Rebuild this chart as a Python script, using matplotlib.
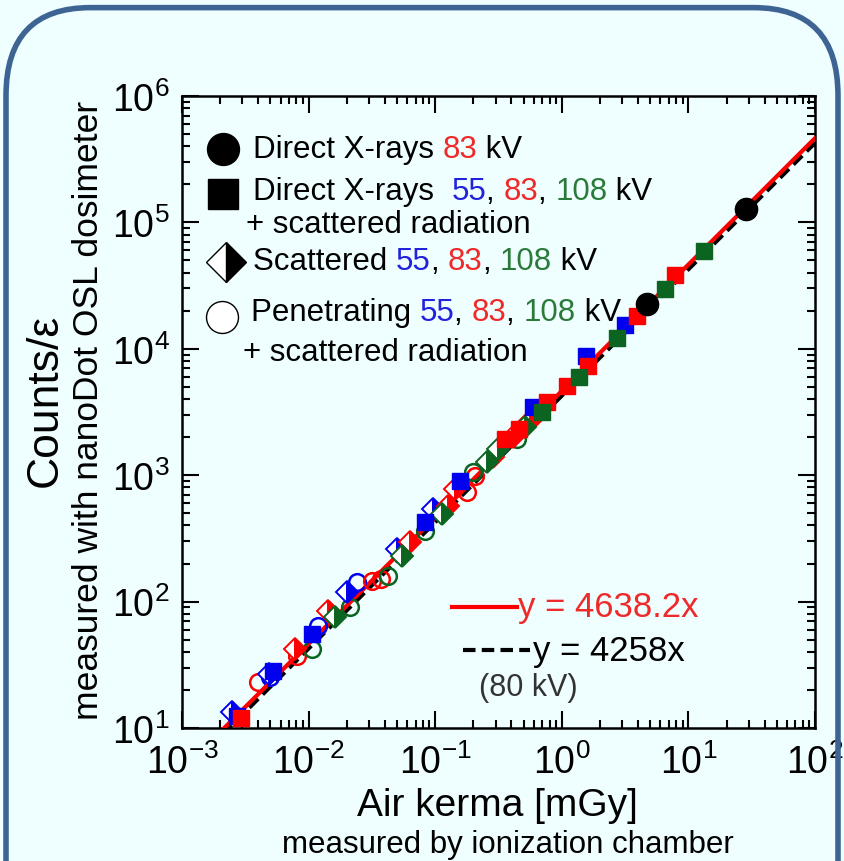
import numpy as np
import matplotlib
matplotlib.use('Agg')
import matplotlib.pyplot as plt
from matplotlib.patches import FancyBboxPatch
from matplotlib.offsetbox import TextArea, HPacker, AnnotationBbox

plt.rcParams['font.family'] = ['Liberation Sans', 'DejaVu Sans']
plt.rcParams['axes.unicode_minus'] = False

# Direct X-rays 83 kV (black circles)
dir83_x = [4.7, 28.5]
dir83_y = [22600, 127600]

# Direct X-rays + scattered radiation (filled squares)
sq55_x = [0.0027, 0.0052, 0.0106, 0.083, 0.157, 0.59, 1.55, 3.16]
sq55_y = [12.5, 28, 55, 427, 900, 3470, 8770, 15400]
sq83_x = [0.0029, 0.356, 0.46, 0.764, 1.10, 1.60, 3.9, 7.83]
sq83_y = [12.0, 1930, 2300, 3790, 5080, 7310, 18150, 38400]
sq108_x = [0.698, 1.37, 2.73, 6.53, 13.3]
sq108_y = [3160, 5990, 12200, 29700, 59400]

# Scattered (half filled diamonds)
sc55_x = [0.0025, 0.0049, 0.0201, 0.0499, 0.0962]
sc55_y = [13.4, 26.7, 119, 260, 541]
sc83_x = [0.0078, 0.0142, 0.0633, 0.126, 0.143, 0.286, 0.412, 0.561]
sc83_y = [42.2, 84, 296, 570, 778, 1393, 2005, 2690]
sc108_x = [0.0161, 0.0547, 0.113, 0.256, 0.313, 0.512]
sc108_y = [75.6, 230, 493, 1271, 1610, 2400]

# Penetrating + scattered radiation (open circles)
pen55_x = [0.0050, 0.0118, 0.0241]
pen55_y = [25.5, 64, 143]
pen83_x = [0.0040, 0.0081, 0.0317, 0.037, 0.178, 0.206]
pen83_y = [23.1, 37.2, 145.6, 150, 736, 986]
pen108_x = [0.0106, 0.0212, 0.0424, 0.083, 0.199, 0.443]
pen108_y = [42, 90.6, 159.6, 362, 1059, 1930]

# fitted lines y = a*x
fit_red = 4638.2
fit_black = 4258.0
fit_range = [0.0021, 100]

BG = '#effefe'
BLUE = '#0000ee'
RED = '#ff0000'
GREEN = '#0b6420'
TBLUE = '#2222dd'
TRED = '#ee2a2a'
TGREEN = '#2a7a3a'

fig = plt.figure(figsize=(8.44, 8.62), dpi=100)
fig.patch.set_facecolor(BG)

# rounded frame around everything
frame = FancyBboxPatch((6 / 844, -0.2), 832 / 844, 1.19, transform=fig.transFigure,
                       boxstyle='round,pad=0,rounding_size=0.1', facecolor='none',
                       edgecolor='#3e6494', linewidth=4, mutation_aspect=862 / 844)
fig.patches.append(frame)

ax = fig.add_axes([182 / 844, 1 - 729 / 862, 633 / 844, 632 / 862])
ax.set_facecolor(BG)
ax.set_xscale('log')
ax.set_yscale('log')
ax.set_xlim(1e-3, 1e2)
ax.set_ylim(1e1, 1e6)

xx = np.array(fit_range)
ax.plot(xx, fit_black * xx, color='black', ls=(0, (3, 1.5)), lw=3, zorder=2)
ax.plot(xx, fit_red * xx, color=RED, lw=3, zorder=3)

for xs, ys, c in [(pen55_x, pen55_y, BLUE), (pen83_x, pen83_y, RED), (pen108_x, pen108_y, GREEN)]:
    ax.plot(xs, ys, 'o', ms=12, mfc='none', mec=c, mew=1.8, zorder=4)
for xs, ys, c in [(sc55_x, sc55_y, BLUE), (sc83_x, sc83_y, RED), (sc108_x, sc108_y, GREEN)]:
    ax.plot(xs, ys, 'D', ms=11, fillstyle='right', mfc=c, mfcalt='white', mec=c, mew=1.4, zorder=5)
for xs, ys, c in [(sq55_x, sq55_y, BLUE), (sq83_x, sq83_y, RED), (sq108_x, sq108_y, GREEN)]:
    ax.plot(xs, ys, 's', ms=11.5, color=c, mec=c, zorder=6)
ax.plot(dir83_x, dir83_y, 'o', ms=16, color='black', zorder=7)

ax.tick_params(which='both', direction='in', top=True, right=True, width=1.5)
ax.tick_params(which='major', length=12, labelsize=27)
ax.tick_params(axis='x', which='major', pad=11)
ax.tick_params(axis='y', which='major', pad=9)
ax.tick_params(which='minor', length=6)
for s in ax.spines.values():
    s.set_linewidth(1.8)

# axis labels
fig.text(497 / 844, 1 - 806 / 862, 'Air kerma [mGy]', fontsize=28, ha='center', va='center')
fig.text(508 / 844, 1 - 845 / 862, 'measured by ionization chamber', fontsize=22.5,
         ha='center', va='center')
fig.text(45 / 844, 1 - 400 / 862, 'Counts/ε', fontsize=32, rotation=90, ha='center', va='center')
fig.text(89 / 844, 1 - 410 / 862, 'measured with nanoDot OSL dosimeter', fontsize=25.5,
         rotation=90, ha='center', va='center')

# legend (hand made)
def colored_line(x, y, parts, size=22.5):
    boxes = [TextArea(t, textprops=dict(color=c, fontsize=size)) for t, c in parts]
    pack = HPacker(children=boxes, align='baseline', pad=0, sep=0)
    ab = AnnotationBbox(pack, (x, 862 - y), xycoords='figure pixels', box_alignment=(0, 0.5),
                        frameon=False, pad=0)
    fig.add_artist(ab)

K = 'black'
fig.lines.append(plt.Line2D([223 / 844], [1 - 150 / 862], marker='o', ms=23, color='black',
                            transform=fig.transFigure))
fig.lines.append(plt.Line2D([223 / 844], [1 - 195 / 862], marker='s', ms=21.5, color='black',
                            transform=fig.transFigure))
fig.lines.append(plt.Line2D([226 / 844], [1 - 263 / 862], marker='D', ms=20, fillstyle='right',
                            mfc='black', mfcalt='white', mec='black', mew=1,
                            transform=fig.transFigure))
fig.lines.append(plt.Line2D([222 / 844], [1 - 318 / 862], marker='o', ms=23, mfc='white',
                            mec='black', mew=1, transform=fig.transFigure))

colored_line(253, 150, [('Direct X-rays ', K), ('83', TRED), (' kV', K)])
colored_line(253, 192, [('Direct X-rays  ', K), ('55', TBLUE), (', ', K), ('83', TRED),
                        (', ', K), ('108', TGREEN), (' kV', K)])
colored_line(246, 225, [('+ scattered radiation', K)])
colored_line(253, 262, [('Scattered ', K), ('55', TBLUE), (', ', K), ('83', TRED),
                        (', ', K), ('108', TGREEN), (' kV', K)])
colored_line(251, 313, [('Penetrating ', K), ('55', TBLUE), (', ', K), ('83', TRED),
                        (', ', K), ('108', TGREEN), (' kV', K)])
colored_line(243, 353, [('+ scattered radiation', K)])

# fit annotations
fig.lines.append(plt.Line2D([452 / 844, 517 / 844], [1 - 608 / 862] * 2, color=RED, lw=3,
                            transform=fig.transFigure))
fig.text(518 / 844, 1 - 608 / 862, 'y = 4638.2x', color=TRED, fontsize=25, va='center')
fig.lines.append(plt.Line2D([463 / 844, 530 / 844], [1 - 651 / 862] * 2, color='black', lw=3,
                            ls=(0, (3, 1.5)), transform=fig.transFigure))
fig.text(533 / 844, 1 - 652 / 862, 'y = 4258x', color='black', fontsize=25, va='center')
fig.text(479 / 844, 1 - 688 / 862, '(80 kV)', color='#333333', fontsize=22, va='center')

fig.savefig('out.png', dpi=100, facecolor=BG)
